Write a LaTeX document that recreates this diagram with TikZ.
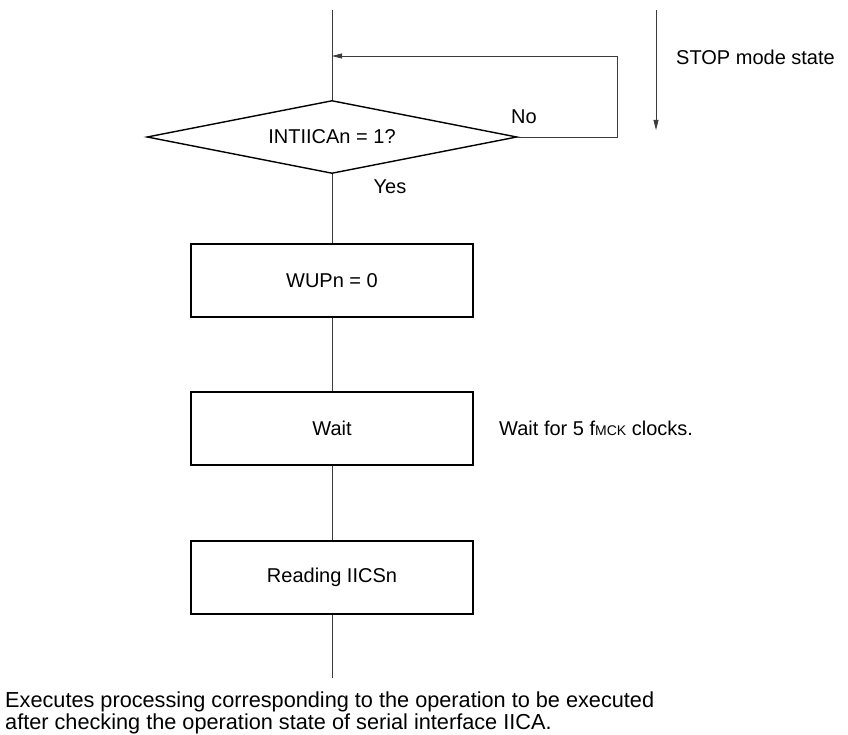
\documentclass[tikz,border=0pt]{standalone}
\usepackage{fontspec}
\setmainfont{Liberation Sans}
\usepackage{tikz}
\usetikzlibrary{shapes.geometric, arrows.meta, positioning}
\definecolor{mydark}{RGB}{0,0,0}
\definecolor{mygray}{RGB}{60,60,60}
\tikzset{
  procbox/.style={rectangle, draw=mydark, fill=white,
    minimum width=282pt, minimum height=73pt, inner sep=0pt,
    font=\fontsize{20}{24}\selectfont, line width=1.4pt},
  decision/.style={diamond, draw=mydark, fill=white, aspect=5.07,
    minimum width=370pt, minimum height=73pt, inner sep=0pt,
    font=\fontsize{20}{24}\selectfont, line width=1.4pt},
  note/.style={font=\fontsize{20}{24}\selectfont, inner sep=0pt},
  line/.style={line width=0.8pt, color=mygray},
  arrow/.style={-{Triangle[length=10pt,width=5pt]}, line width=0.8pt, color=mygray}
}
\begin{document}
\begin{tikzpicture}[x=1pt, y=-1pt]
  \useasboundingbox (0,0) rectangle (848,735);
  % flow
  \coordinate (top) at (332,10);
  \coordinate (join) at (332,56);
  \node[decision] (check) at (332,137) {INTIICAn = 1?};
  \node[procbox] (wup) at (332,280.5) {WUPn = 0};
  \node[procbox] (wait) at (332,428.5) {Wait};
  \node[procbox] (read) at (332,577.5) {Reading IICSn};
  \coordinate (bottom) at (332,678);
  \draw[line] (top) -- (check.north);
  \draw[line] (check.south) -- (wup.north);
  \draw[line] (wup.south) -- (wait.north);
  \draw[line] (wait.south) -- (read.north);
  \draw[line] (read.south) -- (bottom);
  % No loop
  \coordinate (loopbot) at (617,137);
  \coordinate (looptop) at (617,56);
  \draw[arrow] (check.east) -- (loopbot) -- (looptop) -- (join);
  \node[note] (no) at (524,117) {No};
  \node[note] (yes) at (390,187) {Yes};
  % STOP mode state
  \coordinate (stoptop) at (656,10);
  \coordinate (stopbot) at (656,130);
  \draw[arrow] (stoptop) -- (stopbot);
  \node[note, anchor=west] (stop) at (676,57) {STOP mode state};
  % notes
  \node[note, anchor=west] (waitnote) at (499,428.5)
    {Wait for 5 f{\fontsize{14}{16}\selectfont MCK} clocks.};
  \node[note, anchor=north west, align=left, font=\fontsize{21.7}{22}\selectfont]
    (exec) at (5,692)
    {Executes processing corresponding to the operation to be executed\\
     after checking the operation state of serial interface IICA.};
\end{tikzpicture}
\end{document}
